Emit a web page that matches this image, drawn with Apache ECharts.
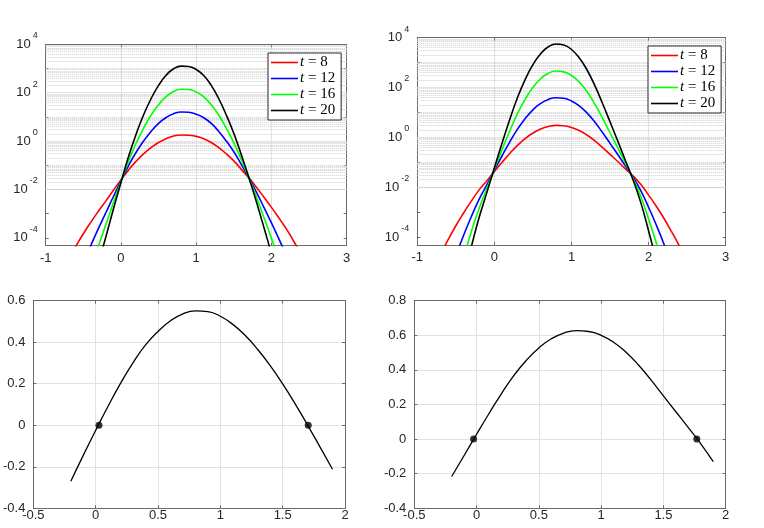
<!DOCTYPE html>
<html><head><meta charset="utf-8">
<script src="https://cdn.jsdelivr.net/npm/echarts@6/dist/echarts.min.js"></script>
<style>html,body{margin:0;padding:0;background:#fff}#c{width:764px;height:528px}</style>
</head><body><div id="c"></div>
<script>
// ---------- legend / series labels ----------
const tValues = [8, 12, 16, 20];
const seriesNames = ['t = 8', 't = 12', 't = 16', 't = 20'];
const lineColors = ['#ff0000', '#0000ff', '#00ff00', '#000000'];

// ---------- top-left panel: x and log10(u) ----------
const tlX = [-0.7,-0.6,-0.5,-0.4,-0.3,-0.2,-0.1,0,0.1,0.2,0.3,0.4,0.5,0.6,0.7,0.8,0.9,1.0,1.1,1.2,1.3,1.4,1.5,1.6,1.7,1.8,1.9,2.0,2.1,2.2,2.3,2.4];
const tlLog10_t8  = [-4.89,-4.35,-3.83,-3.35,-2.90,-2.47,-2.03,-1.605,-1.20,-0.84,-0.53,-0.27,-0.06,0.10,0.21,0.25,0.244,0.195,0.10,-0.06,-0.27,-0.53,-0.82,-1.17,-1.52,-1.91,-2.32,-2.74,-3.18,-3.64,-4.16,-4.70];
const tlLog10_t12 = [-6.67,-5.84,-5.05,-4.31,-3.62,-2.96,-2.29,-1.64,-1.02,-0.47,0.00,0.40,0.73,0.975,1.13,1.20,1.19,1.11,0.965,0.73,0.40,0.00,-0.44,-0.97,-1.515,-2.11,-2.74,-3.38,-4.05,-4.75,-5.55,-6.37];
const tlLog10_t16 = [-8.43,-7.31,-6.26,-5.27,-4.34,-3.45,-2.54,-1.67,-0.84,-0.10,0.53,1.07,1.50,1.84,2.05,2.14,2.13,2.03,1.83,1.50,1.07,0.53,-0.07,-0.77,-1.51,-2.31,-3.15,-4.02,-4.91,-5.86,-6.93,-8.03];
const tlLog10_t20 = [-10.23,-8.82,-7.49,-6.24,-5.07,-3.95,-2.81,-1.71,-0.65,0.275,1.08,1.75,2.30,2.72,2.99,3.10,3.085,2.96,2.71,2.30,1.75,1.08,0.32,-0.57,-1.50,-2.51,-3.57,-4.66,-5.79,-6.98,-8.33,-9.73];

// ---------- top-right panel ----------
const trX = [-0.7,-0.6,-0.5,-0.4,-0.3,-0.2,-0.1,0,0.1,0.2,0.3,0.4,0.5,0.6,0.7,0.8,0.9,1.0,1.1,1.2,1.3,1.4,1.5,1.6,1.7,1.8,1.9,2.0,2.1,2.2,2.3,2.4,2.5];
const trLog10_t8  = [-4.70,-4.11,-3.55,-3.04,-2.56,-2.12,-1.75,-1.373,-1.002,-0.647,-0.321,-0.050,0.172,0.335,0.437,0.48,0.464,0.397,0.272,0.094,-0.135,-0.403,-0.686,-0.971,-1.266,-1.557,-1.897,-2.32,-2.77,-3.26,-3.80,-4.37,-4.98];
const trLog10_t12 = [-6.56,-5.62,-4.75,-3.94,-3.19,-2.50,-1.92,-1.323,-0.740,-0.182,0.330,0.757,1.105,1.361,1.523,1.59,1.566,1.459,1.264,0.983,0.623,0.202,-0.243,-0.691,-1.155,-1.613,-2.146,-2.81,-3.52,-4.29,-5.13,-6.04,-7.00];
const trLog10_t16 = [-8.35,-7.08,-5.90,-4.81,-3.80,-2.87,-2.08,-1.275,-0.488,0.266,0.958,1.535,2.005,2.351,2.569,2.66,2.627,2.483,2.219,1.840,1.354,0.785,0.184,-0.422,-1.048,-1.666,-2.387,-3.28,-4.24,-5.29,-6.42,-7.64,-8.94];
const trLog10_t20 = [-10.17,-8.57,-7.08,-5.69,-4.41,-3.24,-2.24,-1.226,-0.230,0.723,1.598,2.328,2.922,3.359,3.635,3.75,3.708,3.526,3.193,2.713,2.098,1.379,0.619,-0.147,-0.939,-1.721,-2.632,-3.76,-4.97,-6.30,-7.73,-9.30,-10.90];

// ---------- bottom panels ----------
const bX = [-0.2,-0.1,0,0.1,0.2,0.3,0.4,0.5,0.6,0.7,0.8,0.9,1.0,1.1,1.2,1.3,1.4,1.5,1.6,1.7,1.8,1.9];
const blY = [-0.27,-0.145,-0.024,0.093,0.203,0.302,0.387,0.452,0.503,0.537,0.551,0.547,0.525,0.486,0.432,0.365,0.287,0.199,0.103,0.001,-0.105,-0.212];
const brY = [-0.216,-0.095,0.028,0.148,0.263,0.368,0.456,0.527,0.580,0.613,0.627,0.622,0.600,0.560,0.502,0.428,0.342,0.250,0.158,0.066,-0.027,-0.130];
const blRootX = [0.026, 1.705];
const brRootX = [-0.024, 1.768];

// ---------- axes ----------
const topYMin = 4.75e-5, topYMax = 1e4;
const majorDecades = [-4, -2, 0, 2, 4];
const allDecades = [-5, -4, -3, -2, -1, 0, 1, 2, 3];
const topXRange = [-1, 3], topXStep = 1;
const botXRange = [-0.5, 2], botXStep = 0.5;
const blYRange = [-0.4, 0.6], brYRange = [-0.4, 0.8], botYStep = 0.2;

// ---------- layout ----------
const grids = [
  {left: 45.7, top: 44.3, width: 301, height: 201.4},
  {left: 417.3, top: 37.7, width: 308.4, height: 207.3},
  {left: 33.3, top: 300.7, width: 311.7, height: 207.6},
  {left: 414.3, top: 300.7, width: 311.4, height: 207.6}
];

const AX = '#6a6a6a', TXT = '#262626', GRIDC = '#e2e2e2', MINORC = '#cfcfcf';
const FONT = 'Liberation Sans';

function pts(xs, ys) { return xs.map((x, i) => [x, ys[i]]); }
function logPts(xs, es) { return xs.map((x, i) => [x, Math.pow(10, es[i])]); }

const majorVals = majorDecades.filter(d => d < 4).map(d => Math.pow(10, d));
const minorVals = [];
allDecades.forEach(d => {
  for (let k = 1; k <= 9; k++) {
    const v = k * Math.pow(10, d);
    if (v > topYMin && v < topYMax && !(k === 1 && majorDecades.includes(d))) minorVals.push(v);
  }
});

function logLabel(v) {
  const l = Math.log10(v), e = Math.round(l);
  if (Math.abs(l - e) > 1e-6 || !majorDecades.includes(e)) return '';
  return '{b|10}{s|' + e + '}';
}

function xAxisPair(gi, range, step, labelMargin) {
  const base = {
    gridIndex: gi, type: 'value', min: range[0], max: range[1], interval: step,
    axisLine: {show: true, onZero: false, lineStyle: {color: AX, width: 1}},
    axisTick: {show: true, inside: true, length: 3, lineStyle: {color: AX}},
  };
  return [
    Object.assign({}, base, {
      position: 'bottom',
      axisLabel: {color: TXT, fontFamily: FONT, fontSize: 13, margin: labelMargin},
      splitLine: {show: true, lineStyle: {color: GRIDC, width: 1}}
    }),
    Object.assign({}, base, {
      position: 'top', axisLabel: {show: false}, splitLine: {show: false}
    })
  ];
}

function yAxisPairValue(gi, range, step) {
  const base = {
    gridIndex: gi, type: 'value', min: range[0], max: range[1], interval: step,
    axisLine: {show: true, onZero: false, lineStyle: {color: AX, width: 1}},
    axisTick: {show: true, inside: true, length: 3, lineStyle: {color: AX}},
  };
  return [
    Object.assign({}, base, {
      position: 'left',
      axisLabel: {color: TXT, fontFamily: FONT, fontSize: 13, margin: 8},
      splitLine: {show: true, lineStyle: {color: GRIDC, width: 1}}
    }),
    Object.assign({}, base, {position: 'right', axisLabel: {show: false}, splitLine: {show: false}})
  ];
}

function yAxisPairLog(gi) {
  const base = {
    gridIndex: gi, type: 'log', logBase: 10, min: topYMin, max: topYMax,
    axisLine: {show: true, onZero: false, lineStyle: {color: AX, width: 1}},
    axisTick: {show: true, inside: true, length: 3, lineStyle: {color: AX}},
    splitLine: {show: false}
  };
  return [
    Object.assign({}, base, {
      position: 'left',
      axisLabel: {
        color: TXT, fontFamily: FONT, fontSize: 13, margin: 8, showMinLabel: false,
        formatter: logLabel,
        rich: {
          b: {fontFamily: FONT, fontSize: 13, color: TXT, lineHeight: 26, verticalAlign: 'middle'},
          s: {fontFamily: FONT, fontSize: 9, color: TXT, lineHeight: 12, verticalAlign: 'top', padding: [0, 0, 0, 2]}
        }
      }
    }),
    Object.assign({}, base, {position: 'right', axisLabel: {show: false}})
  ];
}

const xAxes = [].concat(
  xAxisPair(0, topXRange, topXStep, 6),
  xAxisPair(1, topXRange, topXStep, 6),
  xAxisPair(2, botXRange, botXStep, 1),
  xAxisPair(3, botXRange, botXStep, 1)
);
const yAxes = [].concat(
  yAxisPairLog(0), yAxisPairLog(1),
  yAxisPairValue(2, blYRange, botYStep),
  yAxisPairValue(3, brYRange, botYStep)
);

function gridLineSeries(xi, yi) {
  return {
    type: 'line', xAxisIndex: xi, yAxisIndex: yi, data: [[1, 1]], showSymbol: false,
    symbol: 'none', lineStyle: {opacity: 0}, silent: true, z: 1, legendHoverLink: false,
    markLine: {
      silent: true, symbol: ['none', 'none'], animation: false, z: 1,
      label: {show: false},
      data: majorVals.map(v => ({yAxis: v, lineStyle: {type: 'solid', color: GRIDC, width: 1}}))
        .concat(minorVals.map(v => ({yAxis: v, lineStyle: {type: 'dotted', color: MINORC, width: 1}})))
    }
  };
}

const tlData = [tlLog10_t8, tlLog10_t12, tlLog10_t16, tlLog10_t20];
const trData = [trLog10_t8, trLog10_t12, trLog10_t16, trLog10_t20];

const lineCommon = {type: 'line', symbol: 'none', smooth: 0.5, clip: true, z: 3};
const series = [gridLineSeries(0, 0), gridLineSeries(2, 2)];
tlData.forEach((es, i) => series.push(Object.assign({}, lineCommon, {
  name: seriesNames[i], xAxisIndex: 0, yAxisIndex: 0, data: logPts(tlX, es),
  lineStyle: {color: lineColors[i], width: 1.6}, itemStyle: {color: lineColors[i]}
})));
trData.forEach((es, i) => series.push(Object.assign({}, lineCommon, {
  name: seriesNames[i], xAxisIndex: 2, yAxisIndex: 2, data: logPts(trX, es),
  lineStyle: {color: lineColors[i], width: 1.6}, itemStyle: {color: lineColors[i]}
})));
series.push(Object.assign({}, lineCommon, {
  xAxisIndex: 4, yAxisIndex: 4, data: pts(bX, blY), lineStyle: {color: '#000', width: 1.3}
}));
series.push({
  type: 'scatter', xAxisIndex: 4, yAxisIndex: 4, data: blRootX.map(x => [x, 0]),
  symbolSize: 7, itemStyle: {color: '#000'}, z: 4
});
series.push(Object.assign({}, lineCommon, {
  xAxisIndex: 6, yAxisIndex: 6, data: pts(bX, brY), lineStyle: {color: '#000', width: 1.3}
}));
series.push({
  type: 'scatter', xAxisIndex: 6, yAxisIndex: 6, data: brRootX.map(x => [x, 0]),
  symbolSize: 7, itemStyle: {color: '#000'}, z: 4
});

function legendAt(left, top) {
  return {
    data: seriesNames.map((n, i) => ({name: n, icon: 'rect', itemStyle: {color: lineColors[i]}})),
    left: left, top: top, orient: 'vertical',
    backgroundColor: '#fff', borderColor: '#262626', borderWidth: 1,
    padding: [2, 6, 2, 3], itemGap: 1, itemWidth: 27, itemHeight: 1.6,
    selectedMode: false,
    formatter: name => '{i|t}{n| = ' + name.split('= ')[1] + '}',
    textStyle: {
      padding: [0, 0, 0, -3],
      rich: {
        i: {fontFamily: 'Liberation Serif', fontStyle: 'italic', fontSize: 15, color: '#000', lineHeight: 15},
        n: {fontFamily: 'Liberation Serif', fontSize: 15, color: '#000', lineHeight: 15}
      }
    }
  };
}

const chart = echarts.init(document.getElementById('c'), null, {renderer: 'canvas'});
chart.setOption({
  animation: false,
  backgroundColor: '#fff',
  grid: grids,
  legend: [legendAt(268, 53), legendAt(648, 46)],
  xAxis: xAxes,
  yAxis: yAxes,
  series: series
});
</script>
</body></html>
